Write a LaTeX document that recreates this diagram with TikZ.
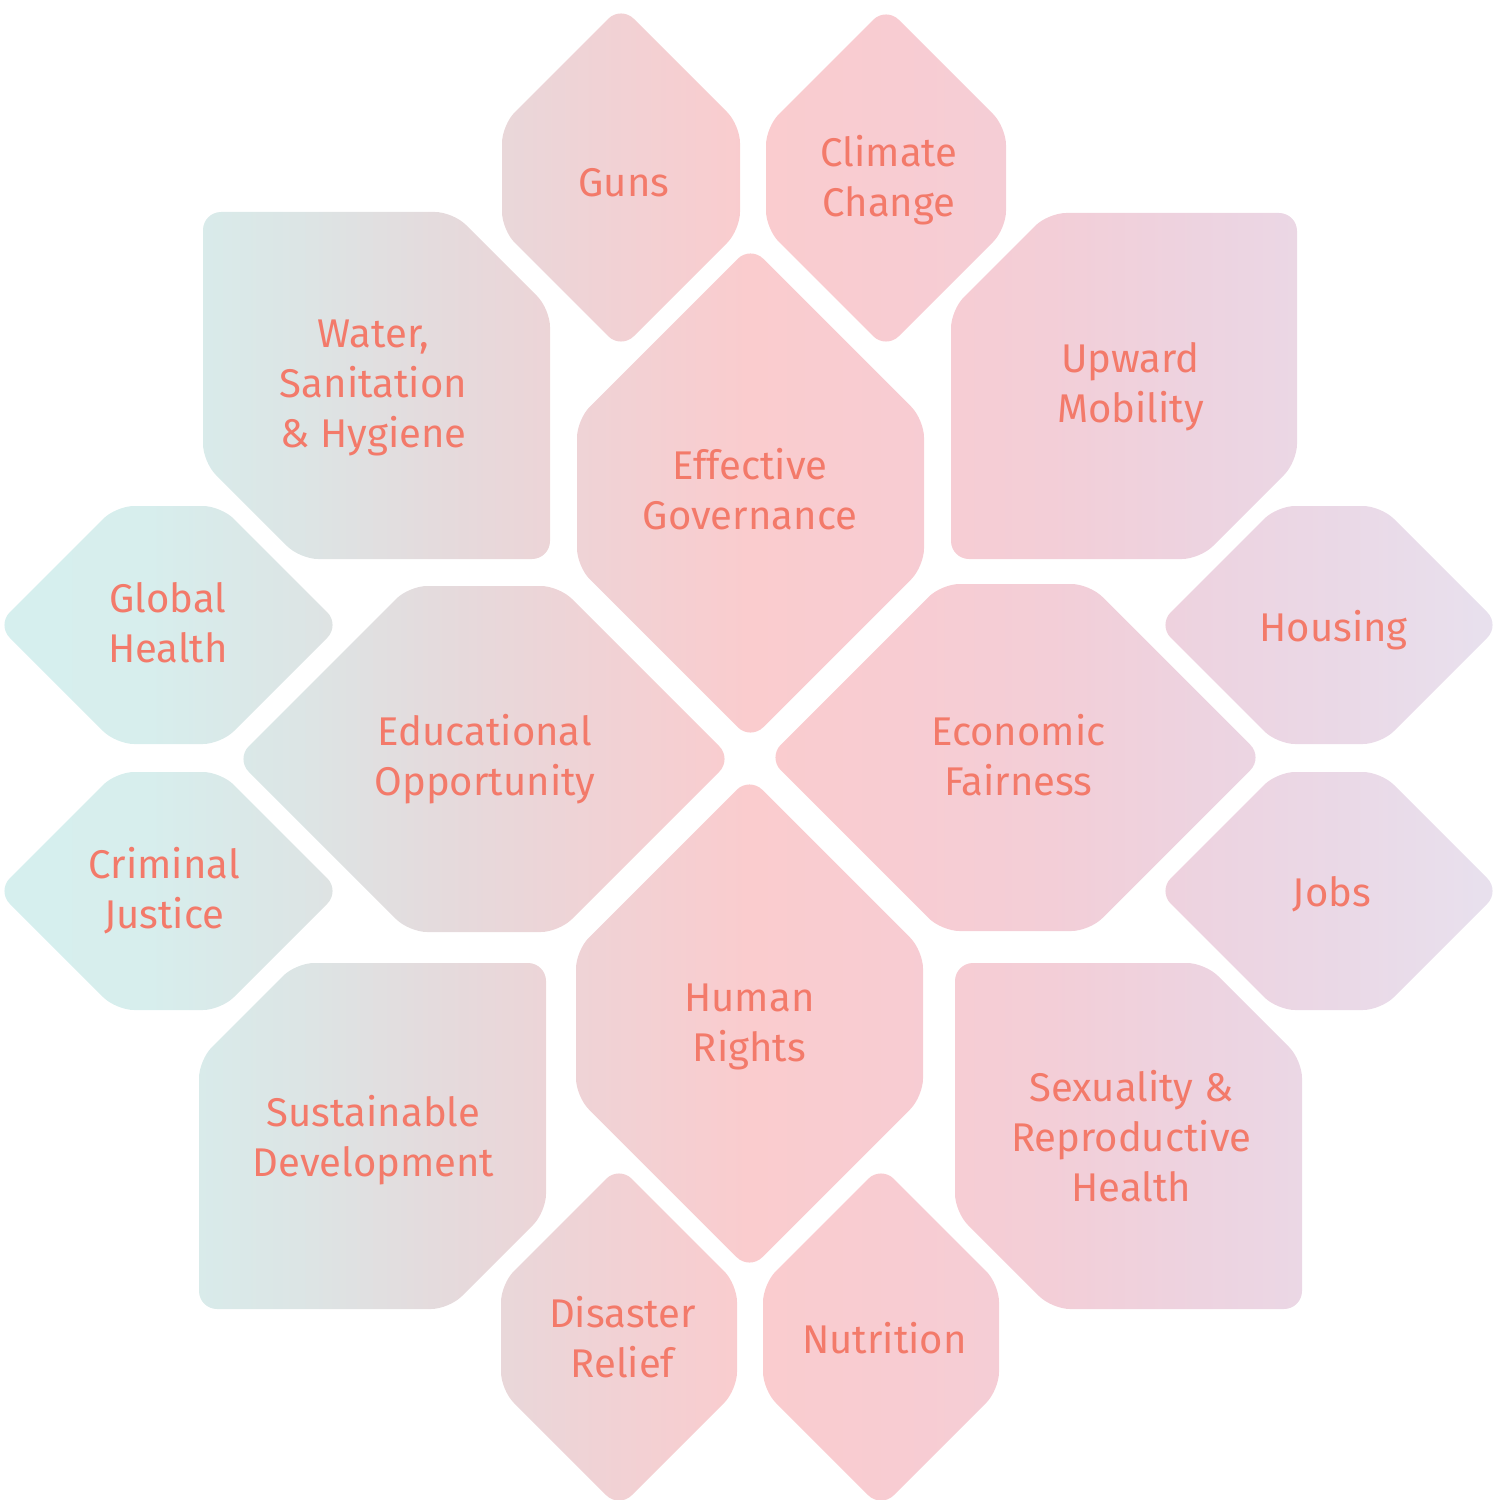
\documentclass[tikz,border=0pt]{standalone}
\usepackage{fontspec}
\setmainfont{Fira Sans}
\definecolor{txt}{RGB}{243,122,106}
\definecolor{s0}{RGB}{214,239,238}
\definecolor{s1}{RGB}{215,238,237}
\definecolor{s2}{RGB}{220,229,229}
\definecolor{s3}{RGB}{229,218,220}
\definecolor{s4}{RGB}{240,210,213}
\definecolor{s5}{RGB}{250,204,206}
\definecolor{s6}{RGB}{248,204,210}
\definecolor{s7}{RGB}{243,206,215}
\definecolor{s8}{RGB}{237,211,224}
\definecolor{s9}{RGB}{234,217,231}
\definecolor{s10}{RGB}{232,225,238}
\pgfdeclarehorizontalshading{hexshade}{100bp}{color(0bp)=(s0); color(25bp)=(s0); color(30bp)=(s1); color(35bp)=(s2); color(40bp)=(s3); color(45bp)=(s4); color(50bp)=(s5); color(55bp)=(s6); color(60bp)=(s7); color(65bp)=(s8); color(70bp)=(s9); color(75bp)=(s10); color(100bp)=(s10)}
\newcommand{\tst}{\rule[-0.27em]{0pt}{1.229em}}
\begin{document}
\begin{tikzpicture}[x=0.1mm,y=-0.1mm,
  hexv/.style n args={4}{insert path={(#1,#2-#4) -- (#1+#3,#2-#4+#3) -- (#1+#3,#2+#4-#3) -- (#1,#2+#4) -- (#1-#3,#2+#4-#3) -- (#1-#3,#2-#4+#3) -- cycle}},
  hexh/.style n args={4}{insert path={(#1-#3,#2) -- (#1-#3+#4,#2-#4) -- (#1+#3-#4,#2-#4) -- (#1+#3,#2) -- (#1+#3-#4,#2+#4) -- (#1-#3+#4,#2+#4) -- cycle}},
  sqa/.style n args={4}{insert path={(#1,#2) -- (#3-97,#2) -- (#3,#2+97) -- (#3,#4) -- (#1+97,#4) -- (#1,#4-97) -- cycle}},
  sqb/.style n args={4}{insert path={(#1+97,#2) -- (#3,#2) -- (#3,#4-97) -- (#3-97,#4) -- (#1,#4) -- (#1,#2+97) -- cycle}},
  lbl/.style={text=txt, align=center, inner sep=0pt, font={\fontsize{11.4}{14.2}\selectfont\lineskiplimit=-20pt}}
]
\useasboundingbox (0,0) rectangle (1500,1500);
\shade[shading=hexshade, rounded corners=1.8mm]
  [hexv={621}{177.5}{119}{171.5}]
  [hexv={886}{178}{120}{171}]
  [hexv={619}{1337}{118}{171}]
  [hexv={881}{1337}{118}{171}]
  [hexv={750.5}{493}{173.5}{247}]
  [hexv={749.5}{1023.5}{173.5}{246.5}]
  [hexh={168.5}{625}{171.5}{119}]
  [hexh={168.5}{891}{171.5}{119}]
  [hexh={1329}{625}{171}{119}]
  [hexh={1329}{891}{171}{119}]
  [hexh={484}{759}{248}{173}]
  [hexh={1015.5}{757.5}{247.5}{173.5}]
  [sqa={203}{212}{550}{559}]
  [sqa={955}{963}{1302}{1309}]
  [sqb={951}{213}{1297}{559}]
  [sqb={199}{963}{546}{1309}];
\node[lbl] (guns) at (624,182.5) {\tst Guns};
\node[lbl] (climate) at (889,178) {\tst Climate\\\tst Change};
\node[lbl] (water) at (373.5,384) {\tst Water,\\\tst Sanitation\\\tst \& Hygiene};
\node[lbl] (upward) at (1130.5,383.5) {\tst Upward\\\tst Mobility};
\node[lbl] (governance) at (750,490.5) {\tst Effective\\\tst Governance};
\node[lbl] (global) at (168,623.3) {\tst Global\\\tst Health};
\node[lbl] (educ) at (485,756.5) {\tst Educational\\\tst Opportunity};
\node[lbl] (econ) at (1018.5,757) {\tst Economic\\\tst Fairness};
\node[lbl] (housing) at (1333.5,627.5) {\tst Housing};
\node[lbl] (criminal) at (164.3,890) {\tst Criminal\\\tst Justice};
\node[lbl] (jobs) at (1332,892.5) {\tst Jobs};
\node[lbl] (human) at (749.5,1022.5) {\tst Human\\\tst Rights};
\node[lbl] (sustain) at (373.5,1138) {\tst Sustainable\\\tst Development};
\node[lbl] (sexual) at (1131.3,1137.5) {\tst Sexuality \&\\\tst Reproductive\\\tst Health};
\node[lbl] (disaster) at (622.5,1339) {\tst Disaster\\\tst Relief};
\node[lbl] (nutrition) at (884.5,1340) {\tst Nutrition};
\end{tikzpicture}
\end{document}
